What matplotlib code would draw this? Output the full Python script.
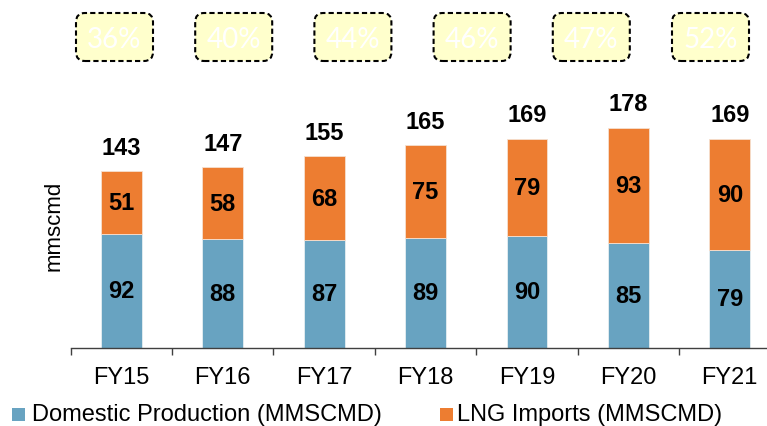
import matplotlib
matplotlib.use("Agg")
import matplotlib.pyplot as plt
from matplotlib.patches import FancyBboxPatch, Rectangle
import numpy as np

years = ["FY15", "FY16", "FY17", "FY18", "FY19", "FY20", "FY21"]
domestic = [92, 88, 87, 89, 90, 85, 79]
lng = [51, 58, 68, 75, 79, 93, 90]
totals = [143, 147, 155, 165, 169, 178, 169]
lng_share = [36, 40, 44, 46, 47, 52]
legend_labels = ["Domestic Production (MMSCMD)", "LNG Imports (MMSCMD)"]

BLUE = "#68A3C1"
ORANGE = "#ED7D31"

plt.rcParams["font.family"] = ["Liberation Sans", "DejaVu Sans"]

W, H = 767, 427
fig = plt.figure(figsize=(W / 100, H / 100), dpi=100)
left_px, right_px = 70.7, 780.5
base_px, top_px = 348.5, 40
ax = fig.add_axes([left_px / W, (H - base_px) / H,
                   (right_px - left_px) / W, (base_px - top_px) / H])

x = np.arange(len(years))
bw = 0.404
ax.bar(x, domestic, bw, color=BLUE, edgecolor="#E6EEF2", linewidth=0.6)
ax.bar(x, lng, bw, bottom=domestic, color=ORANGE, edgecolor="#F6E0D0", linewidth=0.6)

for i in range(len(years)):
    ax.text(x[i], domestic[i] / 2, str(domestic[i]), ha="center", va="center",
            fontsize=17, fontweight="bold", color="black")
    ax.text(x[i], domestic[i] + lng[i] / 2, str(lng[i]), ha="center", va="center",
            fontsize=17, fontweight="bold", color="black")
    ax.annotate(str(totals[i]), (x[i], domestic[i] + lng[i]), xytext=(0, 9),
                textcoords="offset points", ha="center", va="bottom",
                fontsize=17, fontweight="bold", color="black")

ax.set_xlim(-0.5, len(years) - 0.5)
ax.set_ylim(0, (base_px - top_px) / 1.234)
for s in ["left", "top", "right"]:
    ax.spines[s].set_visible(False)
ax.spines["bottom"].set_color("#404040")
ax.spines["bottom"].set_linewidth(1.0)
ax.set_yticks([])
ax.set_xticks(np.arange(len(years) + 1) - 0.5)
ax.set_xticklabels([])
ax.tick_params(axis="x", which="major", length=5, width=1.0, color="#404040", direction="out")
ax.set_xticks(x, minor=True)
ax.set_xticklabels(years, minor=True, fontsize=17)
ax.tick_params(axis="x", which="minor", length=0, pad=13)

fig.text(54 / W, 1 - 226 / H, "mmscmd", rotation=90, ha="center", va="center", fontsize=16)

# LNG share boxes
bx0, bdx = 1.145, 1.192
bw_in, bh_in = 0.77, 0.48
by = (H - 38) / 100
for i, s in enumerate(lng_share):
    cx = bx0 + i * bdx
    p = FancyBboxPatch((cx - bw_in / 2, by - bh_in / 2), bw_in, bh_in,
                       boxstyle="round,pad=0,rounding_size=0.09",
                       transform=fig.dpi_scale_trans, facecolor="#FFFFCC",
                       edgecolor="black", linewidth=1.5, linestyle=(0, (2.5, 1.5)))
    fig.patches.append(p)
    fig.text(cx * 100 / W, (by - 0.02) * 100 / H, f"{s}%", ha="center", va="center",
             fontsize=20, color="white", family=["Lato", "DejaVu Sans"])

# legend (manual)
leg_y = 415
for (mx, tx), col, lab in zip([(12, 32), (440, 457)], [BLUE, ORANGE], legend_labels):
    r = Rectangle((mx / 100, (H - leg_y - 6.5) / 100), 0.125, 0.13,
                  transform=fig.dpi_scale_trans, facecolor=col, edgecolor="none")
    fig.patches.append(r)
    fig.text(tx / W, 1 - leg_y / H, lab, ha="left", va="center", fontsize=17)

fig.savefig("out.png", dpi=100)
